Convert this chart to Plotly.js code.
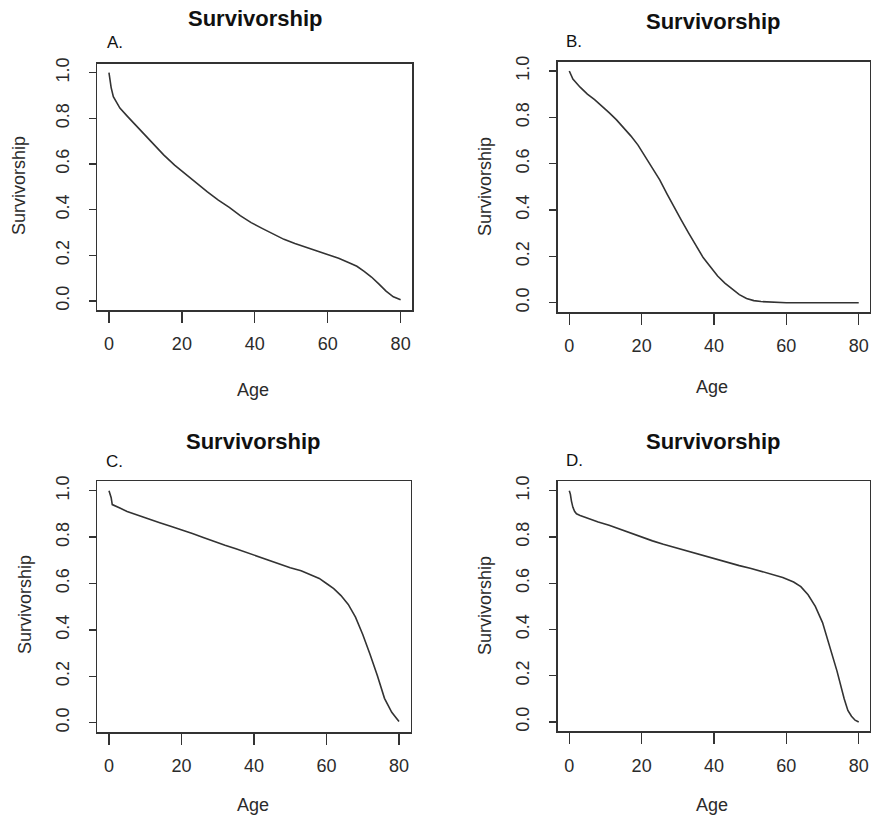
<!DOCTYPE html>
<html>
<head>
<meta charset="utf-8">
<script src="https://cdn.plot.ly/plotly-3.0.1.min.js"></script>
<style>
  html, body { margin: 0; padding: 0; background: #fff; }
  #chart { width: 871px; height: 816px; }
</style>
</head>
<body>
<div id="chart"></div>
<script>
// ---- Data ----
const ageA = [0, 0.3, 0.6, 1.2, 2, 3, 5, 7, 9, 12, 15, 18, 21, 24, 27, 30, 33, 36, 39, 42, 45, 48, 51, 54, 57, 60, 63, 66, 68, 70, 72, 74, 76, 78, 80];
const survA = [1.0, 0.96, 0.935, 0.895, 0.87, 0.845, 0.81, 0.775, 0.74, 0.69, 0.64, 0.595, 0.555, 0.515, 0.478, 0.442, 0.41, 0.374, 0.343, 0.318, 0.293, 0.27, 0.252, 0.235, 0.219, 0.204, 0.187, 0.166, 0.152, 0.13, 0.105, 0.075, 0.043, 0.018, 0.005];

const ageB = [0, 1, 3, 5, 7, 9, 11, 13, 15, 17, 19, 21, 23, 25, 27, 29, 31, 33, 35, 37, 39, 41, 43, 45, 47, 49, 51, 53, 56, 60, 70, 80];
const survB = [1.0, 0.965, 0.93, 0.9, 0.876, 0.85, 0.82, 0.79, 0.757, 0.72, 0.68, 0.63, 0.58, 0.53, 0.47, 0.41, 0.355, 0.3, 0.245, 0.195, 0.155, 0.115, 0.085, 0.058, 0.035, 0.018, 0.009, 0.005, 0.002, 0.0, 0.0, 0.0];

const ageC = [0, 0.3, 0.6, 0.9, 1.5, 3, 5, 8, 11, 14, 17, 20, 23, 26, 29, 32, 35, 38, 41, 44, 47, 50, 53, 56, 58, 60, 62, 64, 66, 68, 70, 72, 74, 76, 78, 80];
const survC = [1.0, 0.985, 0.97, 0.94, 0.935, 0.925, 0.91, 0.893, 0.876, 0.862, 0.847, 0.832, 0.815, 0.798, 0.78, 0.765, 0.75, 0.733, 0.718, 0.7, 0.684, 0.668, 0.655, 0.637, 0.622, 0.6, 0.578, 0.548, 0.51, 0.455, 0.38, 0.295, 0.205, 0.105, 0.045, 0.005];

const ageD = [0, 0.3, 0.6, 1, 1.5, 2, 3, 5, 8, 11, 14, 17, 20, 23, 26, 29, 32, 35, 38, 41, 44, 47, 50, 53, 56, 59, 62, 64, 66, 68, 70, 72, 74, 76, 77, 78, 79, 80];
const survD = [1.0, 0.985, 0.955, 0.928, 0.91, 0.9, 0.893, 0.881, 0.865, 0.85, 0.833, 0.815, 0.798, 0.783, 0.768, 0.755, 0.74, 0.728, 0.713, 0.7, 0.688, 0.676, 0.665, 0.652, 0.638, 0.625, 0.605, 0.585, 0.55, 0.5, 0.43, 0.33, 0.22, 0.1, 0.05, 0.025, 0.008, 0.0];

const panelLetters = ["A.", "B.", "C.", "D."];
const panelTitle = "Survivorship";
const xTitle = "Age";
const yTitle = "Survivorship";
const xTickVals = [0, 20, 40, 60, 80];
const yTickVals = [0, 0.2, 0.4, 0.6, 0.8, 1.0];
const yTickText = ["0.0", "0.2", "0.4", "0.6", "0.8", "1.0"];

// ---- Layout geometry (pixels in an 871x816 page) ----
const W = 871, H = 816;
const FONT = "Liberation Sans, Arial, Helvetica, sans-serif";
const INK = "#2b2b2b";

const panels = [
  {x: ageA, y: survA, box: [97.3, 412.3, 63.6, 310.1], title: [255, 18], letter: [115, 42], ytitle: [19, 186], xtitle: [253, 390]},
  {x: ageB, y: survB, box: [557.7, 870.3, 61.7, 312.0], title: [713, 21], letter: [574, 41], ytitle: [485, 186], xtitle: [712, 387]},
  {x: ageC, y: survC, box: [97.4, 410.6, 481.4, 732.0], title: [253, 441], letter: [114, 461], ytitle: [25, 605], xtitle: [253, 805]},
  {x: ageD, y: survD, box: [557.7, 870.3, 481.4, 731.3], title: [713, 441], letter: [574, 460], ytitle: [485, 605], xtitle: [712, 805]}
];

const traces = [];
const layout = {
  width: W, height: H,
  margin: {l: 0, r: 0, t: 0, b: 0},
  paper_bgcolor: "#fff", plot_bgcolor: "#fff",
  showlegend: false,
  font: {family: FONT, color: INK},
  annotations: []
};

panels.forEach((p, i) => {
  const n = i === 0 ? "" : String(i + 1);
  traces.push({
    type: "scatter", mode: "lines",
    x: p.x, y: p.y,
    xaxis: "x" + n, yaxis: "y" + n,
    line: {color: "#333333", width: 1.6, shape: "linear"},
    hoverinfo: "skip"
  });
  const [l, r, t, b] = p.box;
  layout["xaxis" + n] = {
    domain: [l / W, r / W],
    anchor: "y" + n,
    range: [-3.2, 83.2],
    tickmode: "array", tickvals: xTickVals,
    ticks: "outside", ticklen: 11, tickwidth: 1.3, tickcolor: "#333",
    showline: true, linecolor: "#333", linewidth: 1.6, mirror: true,
    showgrid: false, zeroline: false,
    tickfont: {family: FONT, size: 18, color: INK},
    ticklabelstandoff: 6,
    fixedrange: true
  };
  layout["yaxis" + n] = {
    domain: [1 - b / H, 1 - t / H],
    anchor: "x" + n,
    range: [-0.04, 1.04],
    tickmode: "array", tickvals: yTickVals, ticktext: yTickText,
    tickangle: -90,
    ticks: "outside", ticklen: 7, tickwidth: 1.3, tickcolor: "#333",
    showline: true, linecolor: "#333", linewidth: 1.6, mirror: true,
    showgrid: false, zeroline: false,
    tickfont: {family: FONT, size: 18, color: INK},
    ticklabelstandoff: 13,
    fixedrange: true
  };
  layout.annotations.push(
    {xref: "paper", yref: "paper", x: p.title[0] / W, y: 1 - p.title[1] / H,
     xanchor: "center", yanchor: "middle", showarrow: false,
     text: "<b>" + panelTitle + "</b>", font: {family: FONT, size: 22, color: "#111"}},
    {xref: "paper", yref: "paper", x: p.letter[0] / W, y: 1 - p.letter[1] / H,
     xanchor: "center", yanchor: "middle", showarrow: false,
     text: panelLetters[i], font: {family: FONT, size: 17, color: "#111"}},
    {xref: "paper", yref: "paper", x: p.ytitle[0] / W, y: 1 - p.ytitle[1] / H,
     xanchor: "center", yanchor: "middle", showarrow: false, textangle: -90,
     text: yTitle, font: {family: FONT, size: 18, color: INK}},
    {xref: "paper", yref: "paper", x: p.xtitle[0] / W, y: 1 - p.xtitle[1] / H,
     xanchor: "center", yanchor: "middle", showarrow: false,
     text: xTitle, font: {family: FONT, size: 18, color: INK}}
  );
});

Plotly.newPlot("chart", traces, layout, {displayModeBar: false, staticPlot: true});
</script>
</body>
</html>
